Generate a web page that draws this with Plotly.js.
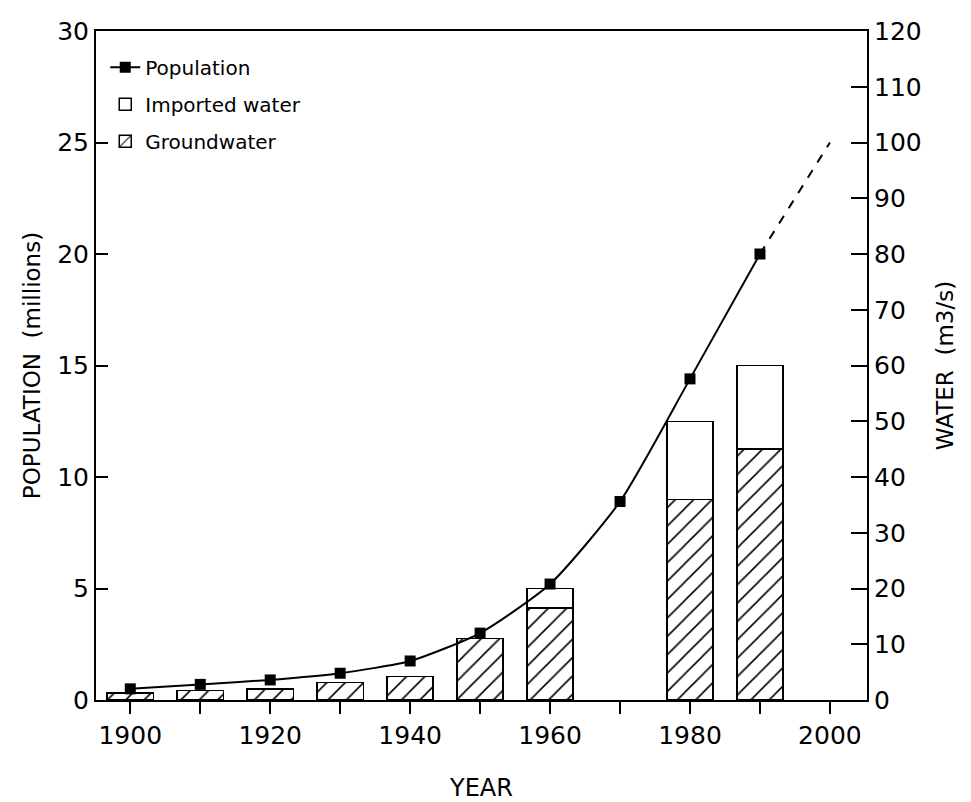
<!DOCTYPE html>
<html><head><meta charset="utf-8">
<script src="https://cdn.plot.ly/plotly-3.0.1.min.js"></script>
<style>body{margin:0;background:#fff}#c{width:971px;height:802px}</style>
</head><body><div id="c"></div>
<script>
const years = [1900,1910,1920,1930,1940,1950,1960,1970,1980,1990];
const population = [0.5,0.7,0.9,1.2,1.75,3.0,5.2,8.9,14.4,20.0];
const projYears = [1990,2000];
const projPopulation = [20.0,25.0];
const groundwater = [1.25,1.7,2.0,3.1,4.2,11.0,16.5,null,36.0,45.0];
const imported = [0,0,0,0,0,0,3.5,null,14.0,15.0];

const FONT = 'DejaVu Sans, Arial, sans-serif';
const traces = [
  {x:years, y:groundwater, type:'bar', name:'Groundwater', yaxis:'y', width:6.6, legendgroup:'g',
   marker:{color:'white', line:{color:'black', width:1.5},
     pattern:{shape:'/', fgcolor:'black', bgcolor:'white', size:13, solidity:0.12}},
   legendrank:3},
  {x:years, y:imported, type:'bar', name:'Imported water', yaxis:'y', width:6.6, legendgroup:'i',
   marker:{color:'white', line:{color:'black', width:1.5}}, legendrank:2},
  {x:years, y:population, type:'scatter', mode:'lines+markers', name:'Population', yaxis:'y2',
   legendgroup:'p',
   line:{color:'black', width:2, shape:'spline', smoothing:0.6},
   marker:{symbol:'square', size:11, color:'black'}, legendrank:1},
  {x:projYears, y:projPopulation, type:'scatter', mode:'lines', yaxis:'y2', showlegend:false,
   legendgroup:'p2', line:{color:'black', width:2, dash:'dash'}}
];
const layout = {
  width:971, height:802,
  margin:{l:96, r:104, t:31, b:102},
  paper_bgcolor:'white', plot_bgcolor:'white',
  font:{family:FONT, color:'black'},
  barmode:'stack',
  showlegend:true,
  legend:{x:0.012, y:0.975, xanchor:'left', yanchor:'top', bgcolor:'rgba(0,0,0,0)',
    font:{size:20, family:FONT}, traceorder:'grouped', itemwidth:30, tracegroupgap:8},
  xaxis:{range:[1895.1,2005.3], showgrid:false, zeroline:false, showline:true, linewidth:2,
    linecolor:'black', mirror:true, ticks:'outside', ticklen:12, tickwidth:1.5, tickcolor:'black',
    tick0:1900, dtick:20, tickfont:{size:25},
    minor:{dtick:10, ticks:'outside', ticklen:12, tickwidth:1.5, tickcolor:'black', showgrid:false},
    title:{text:'YEAR', font:{size:24}, standoff:30}},
  yaxis:{side:'right', range:[0,120], showgrid:false, zeroline:false, showline:true, linewidth:2,
    linecolor:'black', ticks:'inside', ticklen:16, tickwidth:1.5, tickcolor:'black',
    dtick:10, tickfont:{size:25}, title:{text:'WATER  (m3/s)', font:{size:23}, standoff:16}},
  yaxis2:{overlaying:'y', side:'left', range:[0,30], showgrid:false, zeroline:false, showline:true,
    linewidth:2, linecolor:'black', ticks:'inside', ticklen:12, tickwidth:1.5, tickcolor:'black',
    dtick:5, tickfont:{size:25}, title:{text:'POPULATION  (millions)', font:{size:23}, standoff:10}}
};
Plotly.newPlot('c', traces, layout, {displayModeBar:false});
</script></body></html>
